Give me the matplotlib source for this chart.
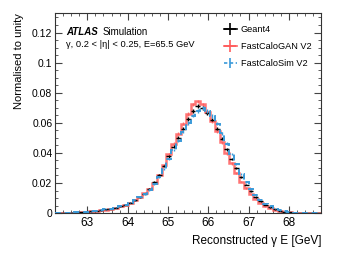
import numpy as np
import matplotlib
matplotlib.use("Agg")
import matplotlib.pyplot as plt
from matplotlib.ticker import MultipleLocator
from matplotlib.lines import Line2D

plt.rcParams['font.family'] = ['Liberation Sans', 'DejaVu Sans']

# Binning (GeV)
x_low, x_high, n_bins = 62.2, 68.8, 55

geant4 = [0.0002, 0.0002, 0.0003, 0.0004, 0.0005, 0.0007, 0.0009, 0.0012, 0.0015, 0.0019,
          0.0024, 0.0030, 0.0037, 0.0046, 0.0057, 0.0070, 0.0086, 0.0106, 0.0130, 0.0158,
          0.0205, 0.0252, 0.0312, 0.0378, 0.0440, 0.0500, 0.0560, 0.0625, 0.0680, 0.0712,
          0.0700, 0.0665, 0.0620, 0.0560, 0.0495, 0.0425, 0.0360, 0.0298, 0.0240, 0.0190,
          0.0145, 0.0108, 0.0078, 0.0055, 0.0038, 0.0025, 0.0016, 0.0010, 0.0006, 0.0004,
          0.0002, 0.0001, 0.0001, 0.0001, 0.0000]

fastcalogan = [0.0001, 0.0002, 0.0002, 0.0003, 0.0004, 0.0006, 0.0008, 0.0011, 0.0014, 0.0018,
               0.0023, 0.0029, 0.0036, 0.0045, 0.0056, 0.0070, 0.0087, 0.0110, 0.0135, 0.0163,
               0.0200, 0.0250, 0.0318, 0.0392, 0.0462, 0.0528, 0.0595, 0.0660, 0.0722, 0.0742,
               0.0722, 0.0672, 0.0612, 0.0545, 0.0472, 0.0398, 0.0330, 0.0268, 0.0210, 0.0165,
               0.0125, 0.0092, 0.0066, 0.0046, 0.0031, 0.0020, 0.0013, 0.0008, 0.0005, 0.0003,
               0.0002, 0.0001, 0.0001, 0.0000, 0.0000]

fastcalosim = [0.0002, 0.0002, 0.0003, 0.0004, 0.0005, 0.0007, 0.0009, 0.0012, 0.0015, 0.0019,
               0.0024, 0.0030, 0.0037, 0.0046, 0.0057, 0.0070, 0.0085, 0.0104, 0.0127, 0.0155,
               0.0192, 0.0238, 0.0295, 0.0360, 0.0420, 0.0482, 0.0540, 0.0598, 0.0648, 0.0680,
               0.0698, 0.0680, 0.0645, 0.0595, 0.0530, 0.0462, 0.0392, 0.0325, 0.0262, 0.0208,
               0.0160, 0.0120, 0.0088, 0.0063, 0.0044, 0.0029, 0.0019, 0.0012, 0.0007, 0.0004,
               0.0003, 0.0002, 0.0001, 0.0001, 0.0000]

n_events = 50000  # for statistical error bars

labels = ["Geant4", "FastCaloGAN V2", "FastCaloSim V2"]
c_g4, c_gan, c_sim = "black", "#ff5c5c", "#3a9ad9"

edges = np.linspace(x_low, x_high, n_bins + 1)
centers = 0.5 * (edges[1:] + edges[:-1])
half = 0.5 * (edges[1] - edges[0])

def err(v):
    v = np.asarray(v)
    return np.sqrt(v * n_events) / n_events

fig = plt.figure(figsize=(3.49, 2.54), dpi=100)
ax = fig.add_axes([0.158, 0.161, 0.762, 0.788])

# FastCaloGAN
ax.stairs(fastcalogan, edges, color=c_gan, lw=1.8, alpha=0.85, zorder=2)
ax.errorbar(centers, fastcalogan, yerr=err(fastcalogan), fmt='none', ecolor=c_gan,
            elinewidth=1.0, alpha=0.85, zorder=2)
# Geant4
ax.errorbar(centers, geant4, xerr=half, yerr=err(geant4), fmt='none', ecolor=c_g4,
            elinewidth=1.0, zorder=3)
# FastCaloSim
ax.stairs(fastcalosim, edges, color=c_sim, lw=1.4, ls=(0, (3, 2)), zorder=4)
ax.errorbar(centers, fastcalosim, yerr=err(fastcalosim), fmt='none', ecolor=c_sim,
            elinewidth=1.0, zorder=4)

ax.set_xlim(x_low, x_high)
ax.set_ylim(0, 0.133)
ax.xaxis.set_major_locator(MultipleLocator(1))
ax.xaxis.set_minor_locator(MultipleLocator(0.2))
ax.yaxis.set_minor_locator(MultipleLocator(0.005))
ax.set_yticks([0, 0.02, 0.04, 0.06, 0.08, 0.1, 0.12])
ax.set_yticklabels(["0", "0.02", "0.04", "0.06", "0.08", "0.1", "0.12"])
ax.tick_params(which='both', direction='in', top=True, right=True, color='#444444')
ax.tick_params(which='major', length=5, width=0.8)
ax.tick_params(which='minor', length=2.5, width=0.6)
ax.tick_params(axis='x', labelsize=8.5, pad=3)
ax.tick_params(axis='y', labelsize=7.5, pad=2)
for s in ax.spines.values():
    s.set_color('#333333')
    s.set_linewidth(0.8)

ax.set_xlabel("Reconstructed γ E [GeV]", fontsize=8.5, loc='right', labelpad=4)
ax.set_ylabel("Normalised to unity", fontsize=8, loc='top', labelpad=6)

ax.text(0.04, 0.905, "ATLAS", transform=ax.transAxes, fontsize=7, fontweight='bold',
        fontstyle='italic', va='center', ha='left')
ax.text(0.18, 0.905, "Simulation", transform=ax.transAxes, fontsize=7, va='center', ha='left')
ax.text(0.04, 0.84, "γ, 0.2 < |η| < 0.25, E=65.5 GeV", transform=ax.transAxes, fontsize=6.7,
        va='center', ha='left')

handles = [
    Line2D([0], [0], color=c_g4, lw=1.2, marker='+', markersize=9, mew=1.2),
    Line2D([0], [0], color=c_gan, lw=1.2, marker='+', markersize=9, mew=1.2),
    Line2D([0], [0], color=c_sim, lw=1.2, ls=(0, (2, 1.5)), marker='|', markersize=7, mew=1.2),
]
leg = ax.legend(handles, labels, loc='upper right', bbox_to_anchor=(0.985, 0.965), frameon=False,
                fontsize=6.6, handlelength=1.5, handletextpad=0.4, labelspacing=0.85,
                borderaxespad=0.2)

fig.savefig("out.png", dpi=100)
